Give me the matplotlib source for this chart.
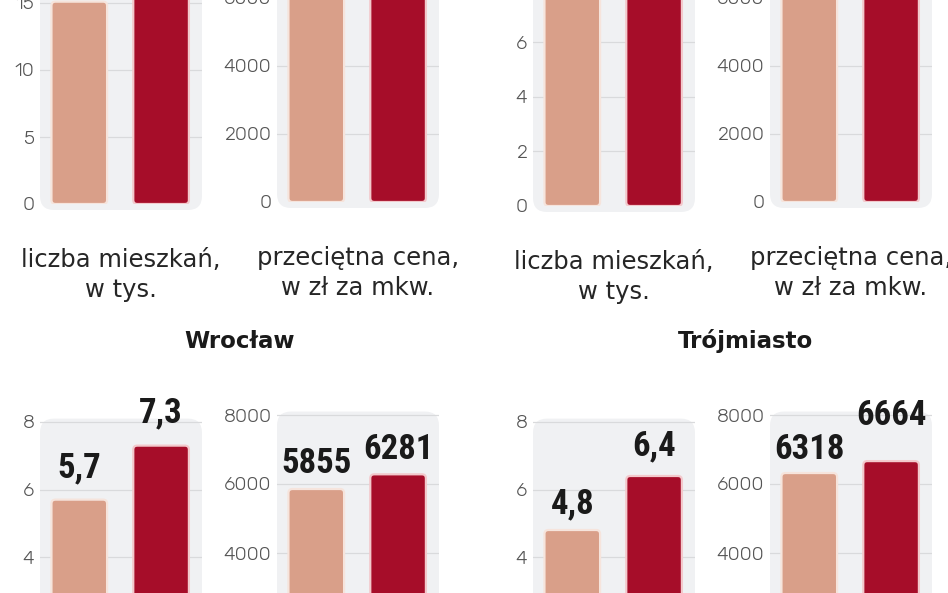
import matplotlib
matplotlib.use("Agg")
import matplotlib.pyplot as plt
from matplotlib.patches import FancyBboxPatch

# data (two bars per panel: light = earlier, dark = later)
count_top_left = [15.1, 18.5]
price_top_left = [6600, 7300]
count_top_right = [8.0, 8.6]
price_top_right = [6900, 7500]
count_wroclaw = [5.7, 7.3]
price_wroclaw = [5855, 6281]
count_trojmiasto = [4.8, 6.4]
price_trojmiasto = [6318, 6664]

cities = ["Wrocław", "Trójmiasto"]
label_count = "liczba mieszkań,\nw tys."
label_price = "przeciętna cena,\nw zł za mkw."

LIGHT = "#d99f89"
DARK = "#a60d29"
EDGES = ["#f6e4dc", "#f3c9cc"]
PANEL = "#f0f1f3"
GRID = "#d9dadc"
TICK = "#555555"

W, H = 948, 593
COND = ["Roboto Condensed", "DejaVu Sans"]

fig = plt.figure(figsize=(W / 100, H / 100), dpi=100)
fig.patch.set_facecolor("white")


def make_ax(left, zero_y, ylim, ticks, px_per_unit, width=162):
    height = ylim[1] * px_per_unit
    ax = fig.add_axes([left / W, (H - zero_y) / H, width / W, height / H])
    ax.set_xlim(-0.48, 1.5)
    ax.set_ylim(*ylim)
    ax.set_yticks(ticks)
    ax.set_xticks([])
    for s in ax.spines.values():
        s.set_visible(False)
    ax.tick_params(axis="y", length=0, pad=4, labelsize=14, labelcolor=TICK)
    for t in ax.get_yticklabels():
        t.set_fontfamily(["Rubik", "DejaVu Sans"])
        t.set_fontweight(300)
    ax.set_facecolor("none")
    return ax, width, height


def draw(ax, width, height, values, bg_top, fmt, offsets):
    xr = ax.get_xlim()[1] - ax.get_xlim()[0]
    yr = ax.get_ylim()[1] - ax.get_ylim()[0]
    ypx = yr / height
    xpx = xr / width
    # grey rounded panel behind the bars
    bg = FancyBboxPatch((-0.48, -6 * ypx), xr, bg_top + 6 * ypx,
                        boxstyle="round,pad=0,rounding_size=%f" % (14 * xpx),
                        mutation_aspect=ypx / xpx, facecolor=PANEL,
                        edgecolor="none", zorder=0, clip_on=False)
    ax.add_patch(bg)
    for t in ax.get_yticks():
        if t > 0:
            ax.axhline(t, color=GRID, lw=0.9, zorder=1)
    bars = ax.bar([0, 1], values, width=0.68, color=[LIGHT, DARK])
    for i, b in enumerate(bars):
        b.set_visible(False)
        p = FancyBboxPatch((b.get_x(), b.get_y()), b.get_width(), b.get_height(),
                           boxstyle="round,pad=0,rounding_size=%f" % (4 * xpx),
                           mutation_aspect=ypx / xpx, facecolor=b.get_facecolor(),
                           edgecolor=EDGES[i], linewidth=1.6, zorder=3)
        ax.add_patch(p)
        ax.annotate(fmt(values[i]), (b.get_x() + b.get_width() / 2, values[i]),
                    xytext=(0, offsets[i]), textcoords="offset points",
                    ha="center", va="baseline", fontsize=25, fontweight="bold",
                    color="#1a1a1a", family=COND, annotation_clip=False)


def fmt_count(v):
    return ("%.1f" % v).replace(".", ",")


def fmt_price(v):
    return "%d" % v


def xlabel(ax, text):
    ax.set_xlabel(text, fontsize=17.5, family="DejaVu Sans",
                  color="#262626", labelpad=32, linespacing=1.3)


lefts = [40, 277, 533, 770]

# top row (cut by the upper edge)
ax, w, h = make_ax(lefts[0], 204, (0, 20), [0, 5, 10, 15], 13.4)
draw(ax, w, h, count_top_left, 22, fmt_count, [16, 16])
xlabel(ax, label_count)
ax, w, h = make_ax(lefts[1], 202, (0, 8000), [0, 2000, 4000, 6000, 8000], 0.034)
draw(ax, w, h, price_top_left, 9000, fmt_price, [11, 11])
xlabel(ax, label_price)
ax, w, h = make_ax(lefts[2], 206, (0, 10), [0, 2, 4, 6, 8], 27.3)
draw(ax, w, h, count_top_right, 11, fmt_count, [16, 16])
xlabel(ax, label_count)
ax, w, h = make_ax(lefts[3], 202, (0, 8000), [0, 2000, 4000, 6000, 8000], 0.034)
draw(ax, w, h, price_top_right, 9000, fmt_price, [11, 11])
xlabel(ax, label_price)

# bottom row (cut by the lower edge)
ax, w, h = make_ax(lefts[0], 692, (0, 9), [0, 2, 4, 6, 8], 33.75)
draw(ax, w, h, count_wroclaw, 8.1, fmt_count, [16, 16.5])
ax, w, h = make_ax(lefts[1], 691, (0, 9000), [0, 2000, 4000, 6000, 8000], 0.0345)
draw(ax, w, h, price_wroclaw, 8100, fmt_price, [11.5, 11])
ax, w, h = make_ax(lefts[2], 692, (0, 9), [0, 2, 4, 6, 8], 33.75)
draw(ax, w, h, count_trojmiasto, 8.1, fmt_count, [12, 15])
ax, w, h = make_ax(lefts[3], 691, (0, 9000), [0, 2000, 4000, 6000, 8000], 0.0345)
draw(ax, w, h, price_trojmiasto, 8100, fmt_price, [10, 26])

fig.text(240 / W, 1 - 341 / H, cities[0], ha="center", va="center",
         fontsize=16.5, fontweight="bold", family="DejaVu Sans", color="#1a1a1a")
fig.text(745 / W, 1 - 341 / H, cities[1], ha="center", va="center",
         fontsize=16.5, fontweight="bold", family="DejaVu Sans", color="#1a1a1a")

fig.savefig("out.png", dpi=100)
